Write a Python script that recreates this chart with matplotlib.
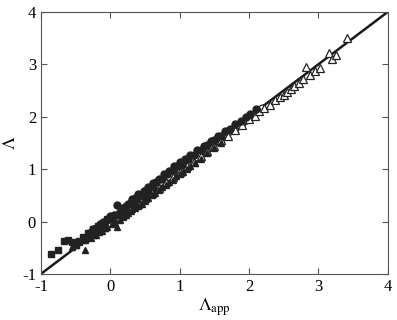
import matplotlib.pyplot as plt
import numpy as np

plt.rcParams['font.family'] = 'Liberation Serif'
plt.rcParams['mathtext.fontset'] = 'stix'
plt.rcParams['axes.unicode_minus'] = False

# filled squares
sq_x = [-0.85, -0.75, -0.66, -0.61, -0.55, -0.50, -0.45, -0.40, -0.36, -0.32, -0.28,
        -0.25, -0.20, -0.18, -0.12, -0.08, -0.05, 0.02, 0.05, 0.08, 0.15, 0.18, 0.22,
        0.30, 0.34, 0.38, 0.45, 0.50, 0.55, 0.62]
sq_y = [-0.62, -0.54, -0.37, -0.35, -0.40, -0.45, -0.38, -0.30, -0.36, -0.22, -0.26,
        -0.15, -0.20, -0.08, -0.05, -0.12, 0.05, 0.08, -0.02, 0.12, 0.20, 0.10, 0.28,
        0.35, 0.30, 0.42, 0.50, 0.46, 0.58, 0.66]

# filled circles
fc_x = [-0.30, -0.25, -0.20, -0.15, -0.10, -0.05, 0.00, 0.05, 0.10, 0.14, 0.18, 0.22,
        0.25, 0.30, 0.32, 0.36, 0.40, 0.44, 0.48, 0.52, 0.55, 0.60, 0.62, 0.66, 0.70,
        0.74, 0.78, 0.82, 0.85, 0.90, 0.92, 0.96, 1.00, 1.04, 1.08, 1.12, 1.15, 1.20,
        1.25, 1.30, 1.35, 1.40, 1.45, 1.50, 1.55, 1.60, 1.65, 1.72, 1.80, 1.88, 1.95,
        2.02, 2.10]
fc_y = [-0.22, -0.15, -0.12, -0.05, 0.00, 0.02, 0.10, 0.12, 0.32, 0.18, 0.26, 0.30,
        0.34, 0.36, 0.42, 0.45, 0.52, 0.50, 0.58, 0.60, 0.66, 0.68, 0.74, 0.75, 0.82,
        0.82, 0.90, 0.90, 0.96, 0.98, 1.05, 1.05, 1.14, 1.08, 1.20, 1.20, 1.26, 1.26,
        1.36, 1.36, 1.44, 1.46, 1.54, 1.55, 1.64, 1.64, 1.72, 1.76, 1.86, 1.92, 2.00,
        2.06, 2.14]

# filled triangles
ft_x = [-0.55, -0.50, -0.45, -0.40, -0.37, -0.32, -0.28, -0.24, -0.20, -0.16, -0.12,
        -0.08, -0.05, 0.02, 0.06, 0.10, 0.14, 0.18, 0.22, 0.25, 0.30, 0.35, 0.40, 0.45,
        0.50, 0.55, 0.60, 0.65, 0.70, 0.75, 0.80, 0.85, 0.90, 0.95, 1.00, 1.05, 1.10,
        1.15, 1.22, 1.30, 1.40, 1.50, 1.60]
ft_y = [-0.48, -0.44, -0.40, -0.36, -0.54, -0.30, -0.32, -0.26, -0.25, -0.20, -0.18,
        -0.12, -0.10, -0.05, 0.00, -0.10, 0.02, 0.08, 0.12, 0.16, 0.20, 0.26, 0.30, 0.34,
        0.40, 0.45, 0.50, 0.55, 0.60, 0.66, 0.70, 0.75, 0.80, 0.86, 0.90, 0.95, 1.00,
        1.06, 1.12, 1.20, 1.30, 1.40, 1.50]

# open circles
oc_x = [0.10, 0.15, 0.20, 0.25, 0.30, 0.35, 0.40, 0.45, 0.50, 0.55, 0.60, 0.65, 0.70,
        0.75, 0.80, 0.85, 0.90, 0.95, 1.00, 1.05, 1.10, 1.15, 1.20, 1.25, 1.30, 1.35,
        1.40, 1.45, 1.50, 1.55, 1.60, 1.65, 1.70, 1.75, 1.80, 1.85, 1.90, 1.95, 2.00,
        2.05, 2.10, 2.18]
oc_y = [0.12, 0.16, 0.22, 0.26, 0.30, 0.36, 0.40, 0.45, 0.50, 0.55, 0.60, 0.64, 0.68,
        0.75, 0.80, 0.84, 0.90, 0.94, 0.98, 1.04, 1.10, 1.14, 1.18, 1.24, 1.30, 1.34,
        1.38, 1.44, 1.50, 1.54, 1.58, 1.64, 1.70, 1.74, 1.78, 1.84, 1.88, 1.94, 1.98,
        2.04, 2.08, 2.16]

# open triangles
ot_x = [0.20, 0.30, 0.40, 0.50, 0.60, 0.70, 0.80, 0.90, 1.00, 1.10, 1.20, 1.30, 1.40,
        1.50, 1.60, 1.70, 1.80, 1.90, 2.00, 2.08, 2.15, 2.22, 2.30, 2.38, 2.45, 2.50,
        2.55, 2.60, 2.65, 2.72, 2.78, 2.82, 2.88, 2.95, 3.02, 3.15, 3.19, 3.25, 3.41]
ot_y = [0.15, 0.25, 0.34, 0.45, 0.55, 0.64, 0.75, 0.84, 0.95, 1.05, 1.14, 1.25, 1.35,
        1.44, 1.55, 1.64, 1.75, 1.84, 1.95, 2.02, 2.10, 2.16, 2.22, 2.32, 2.38, 2.42,
        2.48, 2.52, 2.58, 2.64, 2.72, 2.95, 2.80, 2.88, 2.93, 3.22, 3.10, 3.18, 3.50]

line_x = [-1, 4]

fig = plt.figure(figsize=(3.97, 3.2), dpi=100)
ax = fig.add_axes([0.103, 0.144, 0.874, 0.819])

ax.plot(line_x, line_x, color='#1a1a1a', lw=1.8, zorder=1)
ms = 5
ax.plot(oc_x, oc_y, 'o', mfc='white', mec='#222222', mew=0.9, ms=ms, zorder=2)
ax.plot(ot_x, ot_y, '^', mfc='white', mec='#222222', mew=0.9, ms=ms + 0.5, zorder=2.5)
ax.plot(sq_x, sq_y, 's', color='#222222', ms=ms, zorder=3)
ax.plot(fc_x, fc_y, 'o', color='#222222', ms=ms, zorder=3)
ax.plot(ft_x, ft_y, '^', color='#222222', ms=ms, zorder=3)

ax.set_xlim(-1, 4)
ax.set_ylim(-1, 4)
ax.set_xticks([-1, 0, 1, 2, 3, 4])
ax.set_yticks([-1, 0, 1, 2, 3, 4])
ax.tick_params(direction='in', top=True, right=True, labelsize=12, length=4, color='#555555')
for s in ax.spines.values():
    s.set_color('#555555')
ax.set_xlabel(r'$\Lambda_{\mathrm{app}}$', fontsize=13, labelpad=1)
ax.set_ylabel(r'$\Lambda$', fontsize=13, labelpad=2)

plt.savefig('out.png', dpi=100)
